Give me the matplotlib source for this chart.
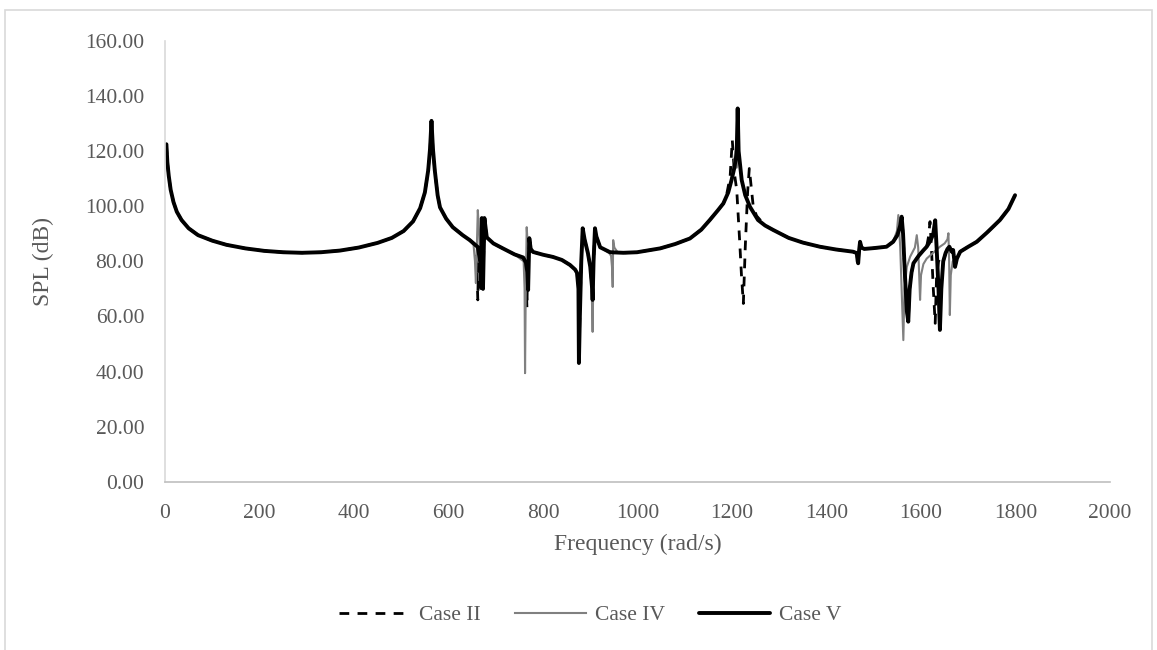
import matplotlib
matplotlib.use("Agg")
import matplotlib.pyplot as plt
from matplotlib.patches import Rectangle
from matplotlib.ticker import FormatStrFormatter

# Case V response, rad/s and dB
freq_v = [3, 5, 8, 12, 18, 25, 35, 50, 70, 100, 130, 170, 210, 250, 290, 330, 370, 410,
          450, 480, 505, 525, 540, 550, 557, 561, 564, 567, 571, 577, 582, 595, 609, 630,
          645, 662, 667, 669, 670.5, 673, 676, 681, 695, 715, 740, 758, 764, 767, 768.5,
          771, 774, 779, 800, 821, 840, 857, 868, 872, 875, 876, 878, 881, 884, 888, 895,
          900, 904, 905, 907, 910, 913, 921, 942, 970, 999, 1048, 1080, 1111, 1135, 1153,
          1170, 1181.6, 1192, 1199, 1205, 1209.9, 1212, 1214, 1220.5, 1228, 1238, 1255,
          1270, 1287, 1320, 1350, 1386, 1420, 1456, 1464, 1466, 1467, 1469, 1471, 1474,
          1480, 1500, 1527, 1541, 1550, 1556, 1559, 1562, 1566, 1570, 1573, 1576, 1580,
          1584, 1595, 1605, 1612, 1620, 1626, 1630, 1633, 1637, 1640, 1643, 1647, 1652,
          1656, 1660, 1665, 1668, 1670, 1672, 1676, 1683, 1700, 1718, 1740, 1767, 1785, 1799]
spl_v = [122.5, 116, 111, 106, 101.5, 98, 95, 92, 89.5, 87.5, 86, 84.7, 83.8, 83.3, 83.1,
         83.3, 83.9, 85, 86.7, 88.5, 91, 94.5, 99.3, 105, 113, 121, 131, 121, 113, 104,
         99.6, 95.5, 92.4, 89.5, 87.7, 85.2, 80, 70.3, 95.7, 70, 95.7, 88.7, 86.5, 84.7,
         82.5, 81.4, 79.5, 76, 69.6, 88.4, 84.5, 83.4, 82.4, 81.6, 80.5, 78.7, 77, 75.8,
         70, 43.1, 60, 80, 92, 88, 83, 78, 70, 66, 80, 92, 89, 85.1, 83.3, 83.1, 83.3,
         84.7, 86.3, 88.3, 91.5, 95, 98.5, 101, 105, 109.5, 114, 119.2, 135.5, 120, 109.5,
         104, 99.8, 95, 93, 91.4, 88.5, 86.8, 85.3, 84.3, 83.5, 83, 80, 79.3, 84, 87.1,
         85, 84.5, 84.8, 85.3, 87.1, 89.5, 93, 96.2, 90, 75, 62, 58.1, 70, 76, 79.3, 82,
         84, 85.3, 87.5, 90, 94.9, 85, 70, 55.1, 70, 80, 83, 84.5, 85.3, 83.5, 84.1, 81,
         78, 81, 83.5, 85.3, 87.1, 90.5, 95, 99, 104]

# Case IV departures from Case V: (start, end, freqs, spl)
case4_parts = [
    (650, 666, [653, 656, 658, 660, 662, 665],
     [86, 80, 72.1, 85, 98.6, 90]),
    (755, 778, [759, 761, 762, 763.5, 765.5, 768, 775],
     [80, 70, 39.4, 70, 92.4, 85, 83.6]),
    (902, 908, [903, 905, 907], [70, 54.4, 80]),
    (930, 965, [940, 944, 946, 947.5, 948.5, 951, 958],
     [83.0, 82, 78, 70.7, 87.7, 85, 83.3]),
    (1200, 1213, [1203, 1207, 1210], [114, 120, 114]),
    (1545, 1682, [1549, 1552, 1556, 1560, 1562.6, 1565, 1570, 1577, 1587, 1591, 1594,
                  1597, 1598, 1600, 1605, 1612, 1625, 1640, 1650, 1656, 1658, 1659.5,
                  1661, 1663, 1667, 1675],
     [91, 96.8, 85, 65, 51.4, 70, 78, 81.7, 85, 89.5, 85, 70, 66, 75, 79, 81, 83,
      85.3, 86.5, 88, 90.2, 80, 60.5, 75, 80, 81]),
]

# Case II departures from Case V
case2_parts = [
    (650, 666, [655, 660, 662, 664], [86, 78, 66, 85]),
    (759, 770, [760, 764, 766, 768], [81, 75, 63.1, 85]),
    (1185, 1260, [1187.6, 1196, 1200.6, 1205, 1210, 1216, 1220, 1224, 1228, 1233,
                  1236.6, 1240, 1245, 1252],
     [103.3, 110.7, 124, 112, 105.9, 88, 75, 64.7, 85, 105, 113.7, 108, 99.8, 96.5]),
    (1606, 1646, [1612, 1616, 1619, 1622, 1626, 1630, 1633, 1637, 1642],
     [85.3, 89, 94.4, 85, 70, 57.5, 75, 80, 81.5]),
]

x_ticks = [0, 200, 400, 600, 800, 1000, 1200, 1400, 1600, 1800, 2000]
y_ticks = [0, 20, 40, 60, 80, 100, 120, 140, 160]


def build(parts):
    pts = list(zip(freq_v, spl_v))
    for lo, hi, fs, ys in parts:
        pts = [p for p in pts if not (lo <= p[0] <= hi)]
        pts += list(zip(fs, ys))
    pts.sort()
    return [p[0] for p in pts], [p[1] for p in pts]


freq_2, spl_2 = build(case2_parts)
freq_4, spl_4 = build(case4_parts)

plt.rcParams['font.family'] = ['Liberation Serif', 'DejaVu Serif']
txt = '#595959'

fig = plt.figure(figsize=(11.57, 6.5), dpi=100)
fig.patches.append(Rectangle((0.004, -0.01), 0.9915, 0.995, transform=fig.transFigure,
                             fill=False, edgecolor='#d9d9d9', linewidth=1.2))
ax = fig.add_axes([0.1426, 0.2589, 0.8168, 0.6781])

ax.plot(freq_2, spl_2, color='black', lw=2.0, dashes=(3.5, 3.0), label='Case II')
ax.plot(freq_4, spl_4, color='#808080', lw=1.5, label='Case IV')
ax.plot(freq_v, spl_v, color='black', lw=2.8, solid_capstyle='round', label='Case V')

ax.set_xlim(0, 2000)
ax.set_ylim(0, 160)
ax.set_xticks(x_ticks)
ax.set_yticks(y_ticks)
ax.yaxis.set_major_formatter(FormatStrFormatter('%.2f'))
ax.tick_params(length=0, labelsize=15.5, colors=txt)
ax.tick_params(axis='x', pad=16)
ax.tick_params(axis='y', pad=15)
for s in ['top', 'right']:
    ax.spines[s].set_visible(False)
ax.spines['left'].set_color('#d9d9d9')
ax.spines['bottom'].set_color('#bfbfbf')
ax.spines['left'].set_linewidth(1.2)
ax.spines['bottom'].set_linewidth(1.2)

ax.set_xlabel('Frequency (rad/s)', fontsize=17, color=txt, labelpad=8)
ax.set_ylabel('SPL (dB)', fontsize=17, color=txt, labelpad=22)

fig.legend(loc='center', bbox_to_anchor=(0.51, 1 - 615 / 650), ncol=3, frameon=False,
           fontsize=15.5, labelcolor=txt, handlelength=3.3, columnspacing=1.6,
           handletextpad=0.4)

fig.savefig('out.png', dpi=100)
